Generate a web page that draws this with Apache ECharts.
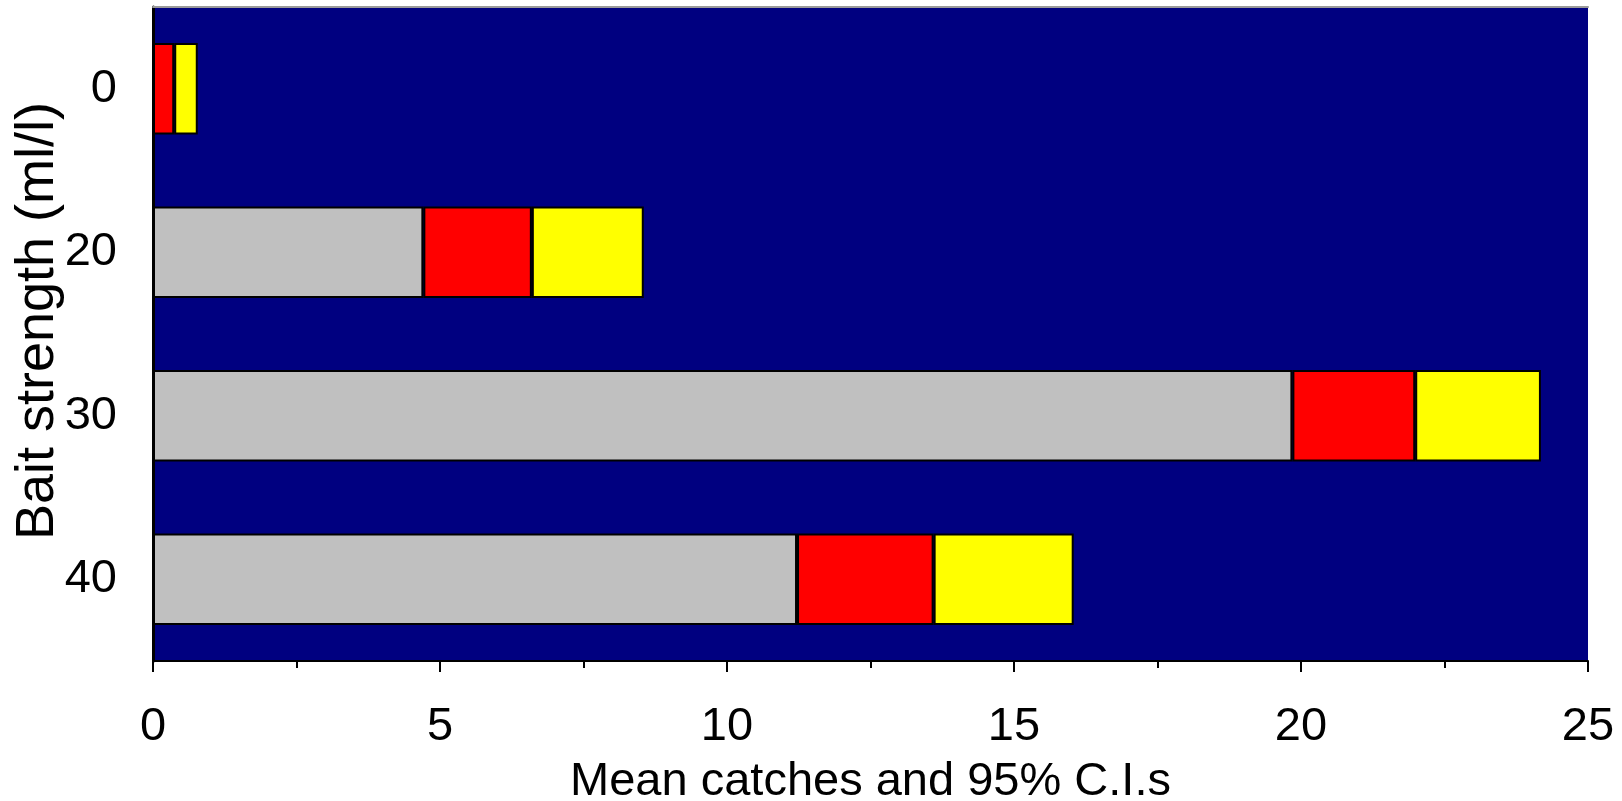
<!DOCTYPE html>
<html>
<head>
<meta charset="utf-8">
<title>Mean catches by bait strength</title>
<script src="https://cdn.jsdelivr.net/npm/echarts@6/dist/echarts.min.js"></script>
<style>
  html, body { margin: 0; padding: 0; background: #ffffff; }
  #chart { width: 1622px; height: 801px; }
</style>
</head>
<body>
<div id="chart"></div>
<script>
// Bait strengths (ml/l), top to bottom
const baitStrengths = ['0', '20', '30', '40'];
// Lower 95% confidence limit, mean catch and upper 95% confidence limit
const lowerCI = [0, 4.71, 19.85, 11.22];
const meanCatch = [0.37, 6.60, 21.99, 13.60];
const upperCI = [0.78, 8.55, 24.18, 16.04];
// Value axis ticks
const xTicks = [0, 5, 10, 15, 20, 25];

// Stacked segments: grey up to the lower limit, red up to the mean, yellow up to the upper limit
const greySeg = lowerCI.slice();
const redSeg = meanCatch.map((m, i) => +(m - lowerCI[i]).toFixed(3));
const yellowSeg = upperCI.map((u, i) => +(u - meanCatch[i]).toFixed(3));

const FONT = 'Liberation Sans, Arial, sans-serif';
const chart = echarts.init(document.getElementById('chart'), null, { renderer: 'canvas' });

const barStyle = (color) => ({ color: color, borderColor: '#000000', borderWidth: 2 });

chart.setOption({
  animation: false,
  backgroundColor: '#ffffff',
  grid: {
    left: 153, right: 34, top: 7, bottom: 140,
    outerBoundsMode: 'none',
    containLabel: false,
    show: true, backgroundColor: '#000080', borderWidth: 0
  },
  xAxis: [
    {
      type: 'value',
      position: 'bottom',
      min: xTicks[0],
      max: xTicks[xTicks.length - 1],
      interval: 5,
      name: 'Mean catches and 95% C.I.s',
      nameLocation: 'middle',
      nameGap: 98,
      nameMoveOverlap: false,
      nameTextStyle: { fontSize: 47, color: '#000000', fontFamily: FONT },
      axisLine: { show: true, lineStyle: { color: '#000000', width: 2 } },
      axisTick: { show: true, length: 11, lineStyle: { color: '#000000', width: 2 } },
      minorTick: { show: true, splitNumber: 2, length: 7, lineStyle: { color: '#000000', width: 2 } },
      splitLine: { show: false },
      axisLabel: { fontSize: 47, color: '#000000', fontFamily: FONT, margin: 43 }
    },
    {
      // frame edge along the top of the plot
      type: 'value',
      position: 'top',
      min: xTicks[0],
      max: xTicks[xTicks.length - 1],
      axisLine: { show: true, lineStyle: { color: '#9a9a9a', width: 2 } },
      axisTick: { show: false },
      axisLabel: { show: false },
      splitLine: { show: false }
    }
  ],
  yAxis: [
    {
      type: 'category',
      data: baitStrengths,
      inverse: true,
      position: 'left',
      name: 'Bait strength (ml/l)',
      nameLocation: 'middle',
      nameGap: 88,
      nameMoveOverlap: false,
      nameTextStyle: { fontSize: 54, color: '#000000', fontFamily: FONT, padding: [0, 0, 0, 26] },
      axisLine: { show: true, lineStyle: { color: '#000000', width: 2 } },
      axisTick: { show: false },
      splitLine: { show: false },
      axisLabel: { fontSize: 47, color: '#000000', fontFamily: FONT, margin: 36 }
    },
    {
      // frame edge along the right of the plot
      type: 'category',
      data: baitStrengths,
      inverse: true,
      position: 'right',
      axisLine: { show: true, lineStyle: { color: '#000000', width: 3 } },
      axisTick: { show: false },
      axisLabel: { show: false },
      splitLine: { show: false }
    }
  ],
  series: [
    {
      name: 'Lower limit', type: 'bar', stack: 'ci', barWidth: '56%',
      data: greySeg, itemStyle: barStyle('#c0c0c0')
    },
    {
      name: 'Mean', type: 'bar', stack: 'ci', barWidth: '56%',
      data: redSeg, itemStyle: barStyle('#ff0000')
    },
    {
      name: 'Upper limit', type: 'bar', stack: 'ci', barWidth: '56%',
      data: yellowSeg, itemStyle: barStyle('#ffff00')
    }
  ]
});
</script>
</body>
</html>
